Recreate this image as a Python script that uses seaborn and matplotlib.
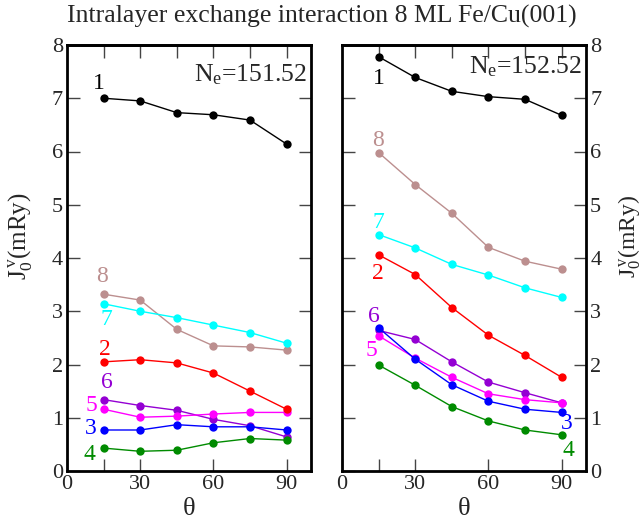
import numpy as np
import pandas as pd
import matplotlib
matplotlib.use("Agg")
import matplotlib.pyplot as plt
import seaborn as sns

theta = [15, 30, 45, 60, 75, 90]
layers = ["1", "2", "3", "4", "5", "6", "7", "8"]

# Ne = 151.52 (left panel)
left_1 = [7.00, 6.95, 6.73, 6.69, 6.59, 6.14]
left_2 = [2.05, 2.09, 2.03, 1.84, 1.50, 1.16]
left_3 = [0.77, 0.77, 0.87, 0.83, 0.83, 0.77]
left_4 = [0.43, 0.37, 0.39, 0.53, 0.61, 0.58]
left_5 = [1.16, 1.01, 1.03, 1.07, 1.10, 1.10]
left_6 = [1.34, 1.23, 1.14, 0.97, 0.85, 0.64]
left_7 = [3.14, 3.00, 2.88, 2.74, 2.60, 2.40]
left_8 = [3.32, 3.21, 2.66, 2.35, 2.33, 2.27]

# Ne = 152.52 (right panel)
right_1 = [7.78, 7.39, 7.13, 7.03, 6.98, 6.68]
right_2 = [4.06, 3.69, 3.07, 2.55, 2.17, 1.76]
right_3 = [2.69, 2.10, 1.62, 1.31, 1.16, 1.10]
right_4 = [1.99, 1.61, 1.21, 0.94, 0.77, 0.68]
right_5 = [2.54, 2.12, 1.76, 1.45, 1.34, 1.28]
right_6 = [2.64, 2.47, 2.05, 1.67, 1.47, 1.28]
right_7 = [4.44, 4.19, 3.88, 3.68, 3.44, 3.26]
right_8 = [5.98, 5.38, 4.84, 4.20, 3.94, 3.79]

panel_titles = ["N$_\\mathrm{e}$=151.52", "N$_\\mathrm{e}$=152.52"]
title = "Intralayer exchange interaction 8 ML Fe/Cu(001)"
xticks = [0, 30, 60, 90]
yticks = [0, 1, 2, 3, 4, 5, 6, 7, 8]

colors = {"1": "#000000", "2": "#ff0000", "3": "#0000ff", "4": "#008b00",
          "5": "#ff00ff", "6": "#9400d3", "7": "#00ffff", "8": "#bc8f8f"}

left_series = [left_1, left_2, left_3, left_4, left_5, left_6, left_7, left_8]
right_series = [right_1, right_2, right_3, right_4, right_5, right_6, right_7, right_8]

def make_df(series):
    rows = []
    for lay, vals in zip(layers, series):
        for t, v in zip(theta, vals):
            rows.append({"theta": t, "J": v, "layer": lay})
    return pd.DataFrame(rows)

# label positions (data coords) for the layer numbers
left_lab = {"1": (13.2, 7.28), "8": (14.2, 3.65), "7": (16.3, 2.84), "2": (15.6, 2.28),
            "6": (16.3, 1.66), "5": (10.1, 1.23), "3": (9.8, 0.80), "4": (9.0, 0.31)}
right_lab = {"1": (15.0, 7.37), "8": (14.6, 6.20), "7": (15.0, 4.66), "2": (14.6, 3.71),
             "6": (13.0, 2.90), "5": (11.9, 2.26), "3": (92.2, 0.90), "4": (92.9, 0.39)}

sns.set_style("ticks")
plt.rcParams["font.family"] = ["Liberation Serif", "DejaVu Serif"]
plt.rcParams["mathtext.fontset"] = "custom"
plt.rcParams["mathtext.rm"] = "Liberation Serif"
plt.rcParams["mathtext.it"] = "Liberation Serif:italic"

fig = plt.figure(figsize=(6.44, 5.24), dpi=100)
axL = fig.add_axes([67/644, 53/524, 244/644, 426/524])
axR = fig.add_axes([342/644, 53/524, 244/644, 426/524])

fs = 16
for ax, series, labs, ptitle in [(axL, left_series, left_lab, panel_titles[0]),
                                 (axR, right_series, right_lab, panel_titles[1])]:
    df = make_df(series)
    sns.lineplot(data=df, x="theta", y="J", hue="layer", palette=colors,
                 marker="o", markersize=6, markeredgewidth=0, linewidth=1,
                 legend=False, ax=ax, hue_order=layers[::-1])
    ax.set_xlim(0, 100)
    ax.set_ylim(0, 8)
    ax.set_xticks(xticks)
    ax.set_xticks([15], minor=True)
    ax.set_yticks(yticks)
    ax.tick_params(axis="both", which="both", direction="in", length=9, width=1,
                   labelsize=fs, pad=3, left=True, right=True, top=False, color="#444444")
    sec = ax.secondary_xaxis("top")
    sec.set_xticks(theta)
    sec.tick_params(direction="in", length=9, width=1, labeltop=False, color="#444444")
    sec.set_xticklabels([])
    for s in sec.spines.values():
        s.set_linewidth(2)
        s.set_color("black")
    for s in ax.spines.values():
        s.set_linewidth(2)
        s.set_color("black")
        s.set_visible(True)
    ax.set_xlabel("θ", fontsize=fs + 3, labelpad=3)
    for lay, (tx, ty) in labs.items():
        ax.text(tx, ty, lay, color=colors[lay], fontsize=fs + 1, ha="center", va="center")
    ax.text(98.5, 7.45 if ax is axL else 7.6, ptitle, fontsize=fs + 2.5, ha="right", va="center")

ylab = "J$_\\mathrm{0}^{\\,\\mathrm{v}}$(mRy)"
axL.set_ylabel(ylab, fontsize=fs + 2)
axL.yaxis.set_label_coords(-0.135, 0.55)
axR.yaxis.tick_right()
axR.tick_params(axis="y", which="both", left=True, right=True, labelleft=False, labelright=True)
axR.yaxis.set_label_position("right")
axR.set_ylabel(ylab, fontsize=fs + 1, rotation=90)
axR.yaxis.set_label_coords(1.125, 0.55)

fig.suptitle(title, fontsize=18.5, y=0.99)
fig.savefig("out.png", dpi=100)
